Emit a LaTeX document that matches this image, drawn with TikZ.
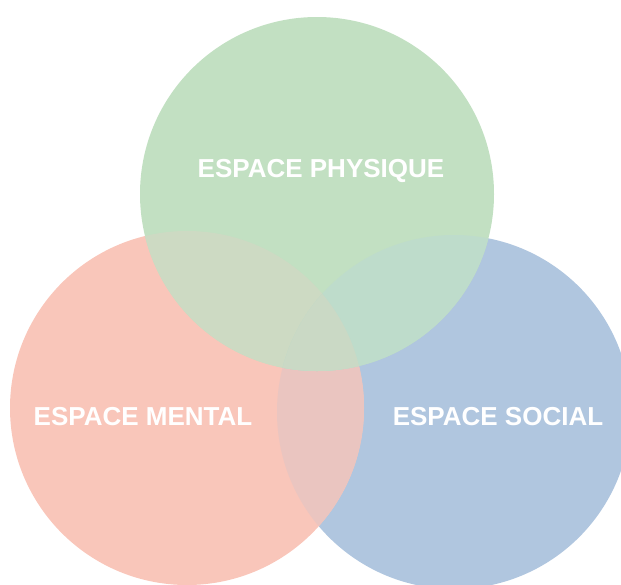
\documentclass[tikz,border=0pt]{standalone}
\usepackage{fontspec}
\setmainfont{Liberation Sans}
\definecolor{phys}{HTML}{C2E0C2}
\definecolor{ment}{HTML}{F9C6BA}
\definecolor{soc}{HTML}{B0C6DF}
\definecolor{physment}{HTML}{CDDAC3}
\definecolor{physsoc}{HTML}{BEDCCB}
\definecolor{mentsoc}{HTML}{EAC5C0}
\definecolor{all}{HTML}{CAD9C5}
\begin{document}
\begin{tikzpicture}[x=1pt,y=-1pt,
  label/.style = {text=white, font=\fontsize{26}{26}\selectfont\bfseries, inner sep=0pt, anchor=base}]
\useasboundingbox (0,0) rectangle (621,584);
\clip (0,0) rectangle (621,584);
\coordinate (P) at (317,194);
\coordinate (M) at (187,408);
\coordinate (S) at (454,412);
% circles
\fill[soc] (S) circle[radius=177pt];
\fill[ment] (M) circle[radius=177pt];
\fill[phys] (P) circle[radius=177pt];
% overlaps
\begin{scope}
\clip (M) circle[radius=177pt];
\fill[mentsoc] (S) circle[radius=177pt];
\fill[physment] (P) circle[radius=177pt];
\clip (S) circle[radius=177pt];
\fill[all] (P) circle[radius=177pt];
\end{scope}
\begin{scope}
\clip (S) circle[radius=177pt];
\clip (P) circle[radius=177pt];
\fill[physsoc] (M) ++(-400,-400) rectangle ++(900,900);
\fill[all] (M) circle[radius=177pt];
\end{scope}
% labels
\node[label] (phy) at (321,177) {ESPACE PHYSIQUE};
\node[label] (men) at (143,425) {ESPACE MENTAL};
\node[label] (so) at (498,425) {ESPACE SOCIAL};
\end{tikzpicture}
\end{document}
